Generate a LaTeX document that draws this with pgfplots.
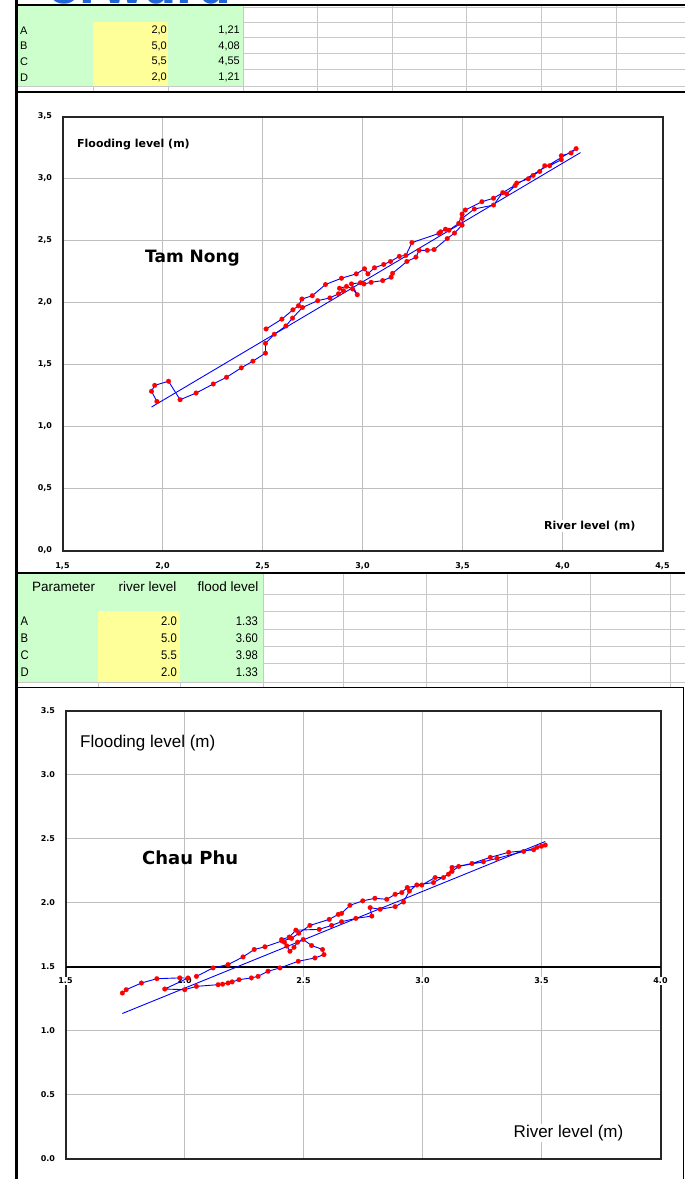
\documentclass[border=0pt]{standalone}
\usepackage{fontspec}
\setmainfont{Liberation Sans}
\newfontfamily\dv{DejaVu Sans}
\newfontfamily\narrow[FakeStretch=0.9]{Liberation Sans}
\usepackage{pgfplots}
\pgfplotsset{compat=1.18}
\definecolor{cellgreen}{RGB}{204,255,204}
\definecolor{cellyellow}{RGB}{255,255,153}
\definecolor{sheetgrid}{RGB}{200,200,200}
\definecolor{chartgrid}{RGB}{190,190,190}
\definecolor{titleblue}{RGB}{35,100,215}
\definecolor{ptred}{RGB}{255,0,0}
\definecolor{lnblue}{RGB}{0,0,255}

\pgfplotstableread{
x y
1.972 1.202
1.945 1.284
1.961 1.332
2.030 1.365
2.088 1.216
2.168 1.270
2.254 1.343
2.320 1.397
2.394 1.473
2.452 1.527
2.515 1.592
2.515 1.671
2.559 1.744
2.617 1.811
2.650 1.874
2.700 1.960
2.776 2.015
2.837 2.037
2.880 2.070
2.905 2.095
2.885 2.115
2.920 2.130
2.950 2.110
2.974 2.063
2.945 2.150
2.990 2.160
3.007 2.150
3.043 2.163
3.101 2.177
3.143 2.204
3.150 2.235
3.222 2.331
3.267 2.366
3.283 2.421
3.324 2.421
3.358 2.427
3.424 2.516
3.460 2.560
3.498 2.624
3.498 2.678
3.559 2.754
3.655 2.786
3.701 2.886
3.721 2.876
3.763 2.943
3.771 2.963
3.829 2.998
3.853 3.025
3.886 3.057
3.911 3.103
3.936 3.103
3.994 3.152
3.994 3.184
4.043 3.206
4.068 3.241
3.655 2.841
3.597 2.813
3.514 2.746
3.498 2.713
3.481 2.638
3.432 2.583
3.415 2.591
3.391 2.570
3.382 2.557
3.247 2.483
3.217 2.380
3.184 2.372
3.140 2.331
3.106 2.307
3.060 2.280
3.027 2.231
3.010 2.272
2.969 2.231
2.895 2.196
2.815 2.145
2.749 2.055
2.697 2.028
2.680 1.974
2.652 1.941
2.597 1.866
2.518 1.787
}\tamnong

\pgfplotstableread{
x y
1.945 1.157
4.090 3.209
}\tamnongmodel

\pgfplotstableread{
x y
1.739 1.293
1.755 1.319
1.819 1.371
1.884 1.405
1.980 1.411
2.015 1.410
1.917 1.324
2.001 1.319
2.050 1.345
2.141 1.358
2.160 1.362
2.183 1.371
2.200 1.380
2.229 1.397
2.281 1.411
2.309 1.423
2.351 1.463
2.401 1.489
2.478 1.541
2.548 1.567
2.586 1.593
2.580 1.633
2.534 1.664
2.499 1.711
2.475 1.690
2.460 1.650
2.443 1.619
2.430 1.660
2.420 1.690
2.408 1.711
2.440 1.730
2.468 1.784
2.566 1.790
2.618 1.821
2.660 1.850
2.720 1.876
2.787 1.894
2.780 1.960
2.822 1.947
2.885 1.968
2.920 2.004
2.945 2.090
2.976 2.137
3.046 2.156
3.109 2.221
3.124 2.274
3.208 2.305
3.285 2.353
3.362 2.392
3.467 2.412
3.500 2.440
3.516 2.449
3.481 2.431
3.425 2.399
3.313 2.345
3.256 2.318
3.152 2.282
3.124 2.243
3.088 2.195
3.053 2.195
2.997 2.137
2.936 2.117
2.913 2.078
2.885 2.064
2.850 2.025
2.800 2.033
2.749 2.013
2.695 1.978
2.660 1.915
2.646 1.907
2.608 1.868
2.527 1.821
2.480 1.760
2.450 1.720
2.410 1.700
2.338 1.654
2.293 1.633
2.246 1.575
2.183 1.515
2.120 1.489
2.050 1.423
}\chauphu

\pgfplotstableread{
x y
1.739 1.133
3.516 2.477
}\chauphumodel

\begin{document}
\begin{tikzpicture}
\path[use as bounding box] (0,0) rectangle (685pt,-1179pt);
\clip (0,0) rectangle (685pt,-1179pt);
\fill[white] (0,0) rectangle (685pt,-1179pt);
% cut-off title
\node[anchor=base east, text=titleblue, font=\dv\bfseries\fontsize{46}{50}\selectfont, inner sep=0] at (232pt,-3pt) {orward};

% ---------- top sheet ----------
\fill[cellgreen] (17pt,-5pt) rectangle (243pt,-85.5pt);
\fill[cellyellow] (93pt,-22pt) rectangle (168pt,-85.5pt);
\foreach \y in {7.5,22.5,37.5,53.5,69.5} \draw[sheetgrid, line width=1pt] (243pt,-\y pt) -- (685pt,-\y pt);
\draw[sheetgrid, line width=1pt] (17pt,-86.5pt) -- (685pt,-86.5pt);
\foreach \x in {243.5,317.5,392.5,466.5,541.5,616.5} \draw[sheetgrid, line width=1pt] (\x pt,-5pt) -- (\x pt,-92pt);
\foreach \x in {93.5,168.5} \draw[sheetgrid, line width=1pt] (\x pt,-86pt) -- (\x pt,-92pt);
\begin{scope}[font=\fontsize{11}{12}\selectfont]
\node[anchor=west, inner sep=0] at (20pt,-30.5pt) {A};
\node[anchor=west, inner sep=0] at (20pt,-46pt) {B};
\node[anchor=west, inner sep=0] at (20pt,-61.5pt) {C};
\node[anchor=west, inner sep=0] at (20pt,-77.5pt) {D};
\node[anchor=east, inner sep=0] at (167pt,-30.5pt) {2,0};
\node[anchor=east, inner sep=0] at (167pt,-46pt) {5,0};
\node[anchor=east, inner sep=0] at (167pt,-61.5pt) {5,5};
\node[anchor=east, inner sep=0] at (167pt,-77.5pt) {2,0};
\node[anchor=east, inner sep=0] at (240pt,-30.5pt) {1,21};
\node[anchor=east, inner sep=0] at (240pt,-46pt) {4,08};
\node[anchor=east, inner sep=0] at (240pt,-61.5pt) {4,55};
\node[anchor=east, inner sep=0] at (240pt,-77.5pt) {1,21};
\end{scope}

% top chart box
\fill[white] (17pt,-92pt) rectangle (685pt,-572pt);
\draw[black, line width=2pt] (17pt,-92pt) -- (685pt,-92pt);

% ---------- second sheet ----------
\fill[cellgreen] (17pt,-574pt) rectangle (263pt,-682pt);
\fill[cellyellow] (98pt,-611pt) rectangle (180pt,-682pt);
\foreach \y in {594.5,611.5,629.5,646.5,663.5} \draw[sheetgrid, line width=1pt] (263pt,-\y pt) -- (685pt,-\y pt);
\draw[sheetgrid, line width=1pt] (17pt,-682.5pt) -- (685pt,-682.5pt);
\foreach \x in {263.5,343.5,426.5,507.5,590.5,670.5} \draw[sheetgrid, line width=1pt] (\x pt,-574pt) -- (\x pt,-687pt);
\foreach \x in {98.5,180.5} \draw[sheetgrid, line width=1pt] (\x pt,-682pt) -- (\x pt,-687pt);
\draw[black, line width=2pt] (17pt,-573pt) -- (685pt,-573pt);
\begin{scope}[font=\fontsize{13.5}{15}\selectfont]
\node[anchor=west, inner sep=0] at (32pt,-587pt) {Parameter};
\node[anchor=east, inner sep=0] at (176.5pt,-587pt) {river level};
\node[anchor=east, inner sep=0] at (258.5pt,-587pt) {flood level};
\end{scope}
\begin{scope}[font=\narrow\fontsize{12.5}{14}\selectfont]
\node[anchor=west, inner sep=0] at (20.5pt,-621.5pt) {A};
\node[anchor=west, inner sep=0] at (20.5pt,-638pt) {B};
\node[anchor=west, inner sep=0] at (20.5pt,-655pt) {C};
\node[anchor=west, inner sep=0] at (20.5pt,-672pt) {D};
\node[anchor=east, inner sep=0] at (177pt,-621.5pt) {2.0};
\node[anchor=east, inner sep=0] at (177pt,-638pt) {5.0};
\node[anchor=east, inner sep=0] at (177pt,-655pt) {5.5};
\node[anchor=east, inner sep=0] at (177pt,-672pt) {2.0};
\node[anchor=east, inner sep=0] at (258pt,-621.5pt) {1.33};
\node[anchor=east, inner sep=0] at (258pt,-638pt) {3.60};
\node[anchor=east, inner sep=0] at (258pt,-655pt) {3.98};
\node[anchor=east, inner sep=0] at (258pt,-672pt) {1.33};
\end{scope}

% bottom chart box
\fill[white] (17pt,-687pt) rectangle (683.5pt,-1179pt);
\draw[black, line width=1.5pt] (17pt,-687.5pt) -- (683.5pt,-687.5pt) -- (683.5pt,-1179pt);

% left border and top border
\draw[black, line width=2.5pt] (16.5pt,0pt) -- (16.5pt,-1179pt);
\draw[black, line width=2.5pt] (15pt,-5pt) -- (685pt,-5pt);

% ---------- Tam Nong ----------
\begin{axis}[
  at={(62.5pt,-550.5pt)}, anchor=south west,
  scale only axis, width=600pt, height=434pt,
  xmin=1.5, xmax=4.5, ymin=0, ymax=3.5,
  xtick={1.5,2,2.5,3,3.5,4,4.5},
  xticklabels={{1,5},{2,0},{2,5},{3,0},{3,5},{4,0},{4,5}},
  ytick={0,0.5,1,1.5,2,2.5,3,3.5},
  yticklabels={{0,0},{0,5},{1,0},{1,5},{2,0},{2,5},{3,0},{3,5}},
  grid=major, grid style={chartgrid, line width=1pt},
  axis line style={black!85, line width=2pt},
  tick label style={font=\dv\bfseries\fontsize{8}{9}\selectfont},
  major tick length=0pt,
  xtick style={draw=none},
  ytick style={draw=none},
  xticklabel style={yshift=-9pt},
  yticklabel style={xshift=-7pt},
]
\addplot[lnblue, line width=0.9pt, no markers] table[x=x,y=y] {\tamnongmodel};
\addplot[lnblue, line width=0.9pt, mark=*, mark size=2.4pt,
  mark options={fill=ptred, draw=ptred, line width=0.1pt}] table[x=x,y=y] {\tamnong};
\end{axis}
\node[anchor=west, font=\dv\bfseries\fontsize{11}{12}\selectfont, inner sep=0] at (77pt,-145pt) {Flooding level (m)};
\node[anchor=west, font=\dv\bfseries\fontsize{17}{19}\selectfont, inner sep=0] at (145pt,-258pt) {Tam Nong};
\node[anchor=east, fill=white, font=\dv\bfseries\fontsize{11}{12}\selectfont, inner sep=1.5pt] at (637pt,-526pt) {River level (m)};

% ---------- Chau Phu ----------
\begin{axis}[
  at={(65.5pt,-1158.5pt)}, anchor=south west,
  scale only axis, width=595pt, height=448pt,
  xmin=1.5, xmax=4, ymin=0, ymax=3.5,
  xtick={1.5,2,2.5,3,3.5,4},
  xticklabels={1.5,2.0,2.5,3.0,3.5,4.0},
  ytick={0,0.5,1,2,2.5,3,3.5},
  yticklabels={0.0,0.5,1.0,2.0,2.5,3.0,3.5},
  extra y ticks={1.5}, extra y tick labels={1.5},
  extra y tick style={grid style={black, line width=2pt}},
  grid=major, grid style={chartgrid, line width=1pt},
  axis line style={black!85, line width=2pt},
  tick label style={font=\dv\bfseries\fontsize{8}{9}\selectfont},
  major tick length=0pt, xtick style={draw=none}, ytick style={draw=none},
  xticklabel style={yshift=182pt, fill=white, inner sep=1pt},
  yticklabel style={xshift=-7pt},
]
\addplot[lnblue, line width=0.9pt, no markers] table[x=x,y=y] {\chauphumodel};
\addplot[lnblue, line width=0.9pt, mark=*, mark size=2.4pt,
  mark options={fill=ptred, draw=ptred, line width=0.1pt}] table[x=x,y=y] {\chauphu};
\end{axis}
\node[anchor=west, font=\fontsize{17}{19}\selectfont, inner sep=0] at (80pt,-743pt) {Flooding level (m)};
\node[anchor=west, font=\dv\bfseries\fontsize{18}{20}\selectfont, inner sep=0] at (142pt,-858pt) {Chau Phu};
\node[anchor=east, fill=white, font=\fontsize{17}{19}\selectfont, inner sep=1.5pt] at (625pt,-1133pt) {River level (m)};
\end{tikzpicture}
\end{document}
